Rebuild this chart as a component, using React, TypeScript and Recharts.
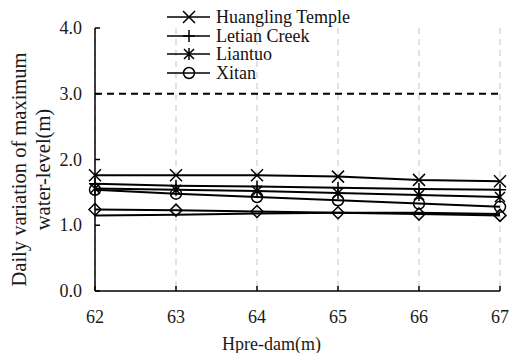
import { CartesianGrid, Legend, Line, LineChart, ReferenceLine, XAxis, YAxis } from "recharts";

const HPRE = [62, 63, 64, 65, 66, 67];
const HUANGLING = [1.76, 1.76, 1.76, 1.74, 1.69, 1.67];
const LETIAN = [1.63, 1.6, 1.59, 1.57, 1.55, 1.54];
const LIANTUO = [1.56, 1.54, 1.52, 1.49, 1.46, 1.43];
const XITAN = [1.54, 1.48, 1.43, 1.38, 1.33, 1.28];
const DIAMOND_RUN = [1.24, 1.23, 1.21, 1.19, 1.17, 1.15];
const PLAIN_RUN = [1.15, 1.16, 1.18, 1.19, 1.19, 1.17];
const LIMIT = 3.0;
const X_TICKS = [62, 63, 64, 65, 66, 67];
const Y_TICKS = [0, 1, 2, 3, 4];

const data = HPRE.map((h, i) => ({
  h,
  huangling: HUANGLING[i],
  letian: LETIAN[i],
  liantuo: LIANTUO[i],
  xitan: XITAN[i],
  diamond: DIAMOND_RUN[i],
  plain: PLAIN_RUN[i],
}));

const FONT = '"Liberation Serif", "Times New Roman", serif';
const INK = "#000";
const TXT = { fontFamily: FONT, fontSize: 18, fill: "#1a1a1a" };

type Kind = "cross" | "plus" | "star" | "circle" | "diamond";

const SHAPES: Record<string, Kind> = {
  huangling: "cross",
  letian: "plus",
  liantuo: "star",
  xitan: "circle",
  diamond: "diamond",
};

function Marker({ kind, cx, cy }: { kind: Kind; cx: number; cy: number }) {
  const s = 6;
  const st = { stroke: INK, strokeWidth: 1.5, fill: "none" };
  if (kind === "cross")
    return <path d={`M${cx - s},${cy - s}L${cx + s},${cy + s}M${cx - s},${cy + s}L${cx + s},${cy - s}`} {...st} />;
  if (kind === "plus")
    return <path d={`M${cx},${cy - s}L${cx},${cy + s}M${cx - s},${cy}L${cx + s},${cy}`} {...st} />;
  if (kind === "star")
    return (
      <path
        d={`M${cx - 5},${cy - 5}L${cx + 5},${cy + 5}M${cx - 5},${cy + 5}L${cx + 5},${cy - 5}M${cx},${cy - s}L${cx},${cy + s}`}
        {...st}
      />
    );
  if (kind === "circle") return <circle cx={cx} cy={cy} r={5.5} {...st} />;
  return <path d={`M${cx},${cy - s}L${cx + s},${cy}L${cx},${cy + s}L${cx - s},${cy}Z`} {...st} />;
}

const dotFor = (key: string) => (p: any) =>
  <Marker key={`${key}-${p.index}`} kind={SHAPES[key]} cx={p.cx} cy={p.cy} />;

// inward tick marks, labels outside
const renderXTick = ({ x, y, payload }: any) => (
  <g key={`xt-${payload.value}`}>
    <line x1={x} x2={x} y1={y} y2={y - 5} stroke={INK} strokeWidth={1.5} />
    <text x={x} y={y + 32} textAnchor="middle" fontFamily={FONT} style={TXT}>
      {String(payload.value)}
    </text>
  </g>
);

const renderYTick = ({ x, y, payload }: any) => (
  <g key={`yt-${payload.value}`}>
    <line x1={x} x2={x + 5} y1={y} y2={y} stroke={INK} strokeWidth={1.5} />
    <text x={x - 13} y={y + 6} textAnchor="end" fontFamily={FONT} style={TXT}>
      {Number(payload.value).toFixed(1)}
    </text>
  </g>
);

function LegendBox({ payload }: any) {
  const items = (payload || []).filter((it: any) => it.type !== "none");
  return (
    <div style={{ fontFamily: FONT, fontSize: 18, color: "#111" }}>
      {items.map((it: any) => (
        <div key={it.dataKey} style={{ display: "flex", alignItems: "center", height: 18.5, lineHeight: "18px" }}>
          <svg width={49} height={16} style={{ overflow: "visible" }}>
            <line x1={0} x2={43} y1={8} y2={8} stroke={INK} strokeWidth={1.5} />
            <Marker kind={SHAPES[it.dataKey]} cx={22} cy={8} />
          </svg>
          <span>{it.value}</span>
        </div>
      ))}
    </div>
  );
}

// two-line rotated title for the value axis
function YTitle(props: any) {
  const cy = props.viewBox.y + props.viewBox.height / 2 + 10;
  const st = { ...TXT, fontSize: 20.5 };
  return (
    <g>
      <text x={26} y={cy} transform={`rotate(-90 26 ${cy})`} textAnchor="middle" style={st}>
        Daily variation of maximum
      </text>
      <text x={50} y={cy} transform={`rotate(-90 50 ${cy})`} textAnchor="middle" style={st}>
        water-level(m)
      </text>
    </g>
  );
}

export default function App() {
  return (
    <div style={{ position: "fixed", left: 0, top: 0, width: 510, height: 353, background: "#fff" }}>
      <LineChart
        width={510}
        height={353}
        data={data}
        margin={{ top: 28, right: 10, bottom: 0, left: 0 }}
        style={{ fontFamily: FONT }}
      >
        <CartesianGrid horizontal={false} stroke="#cfcfcf" strokeDasharray="6 5" strokeWidth={1.2} />
        <XAxis
          dataKey="h"
          type="number"
          domain={[62, 67]}
          ticks={X_TICKS}
          height={62}
          axisLine={{ stroke: INK, strokeWidth: 1.5 }}
          tickLine={false}
          tickSize={0}
          tickMargin={0}
          tick={renderXTick}
          label={{
            value: "Hpre-dam(m)",
            position: "insideBottom",
            offset: 3,
            dx: -26,
            style: TXT,
          }}
        />
        <YAxis
          type="number"
          domain={[0, 4]}
          ticks={Y_TICKS}
          width={95}
          axisLine={{ stroke: INK, strokeWidth: 1.5 }}
          tickLine={false}
          tickSize={0}
          tickMargin={0}
          tick={renderYTick}
          label={<YTitle />}
        />
        <ReferenceLine y={LIMIT} stroke={INK} strokeWidth={2} strokeDasharray="7 5" />
        <Legend
          layout="vertical"
          align="center"
          verticalAlign="middle"
          wrapperStyle={{ left: 167, top: 8, width: 220 }}
          content={<LegendBox />}
        />
        <Line dataKey="plain" legendType="none" stroke={INK} strokeWidth={2} dot={false} isAnimationActive={false} />
        <Line dataKey="diamond" legendType="none" stroke={INK} strokeWidth={2} dot={dotFor("diamond")} isAnimationActive={false} />
        <Line dataKey="xitan" name="Xitan" stroke={INK} strokeWidth={2} dot={dotFor("xitan")} isAnimationActive={false} />
        <Line dataKey="liantuo" name="Liantuo" stroke={INK} strokeWidth={2} dot={dotFor("liantuo")} isAnimationActive={false} />
        <Line dataKey="letian" name="Letian Creek" stroke={INK} strokeWidth={2} dot={dotFor("letian")} isAnimationActive={false} />
        <Line dataKey="huangling" name="Huangling Temple" stroke={INK} strokeWidth={2} dot={dotFor("huangling")} isAnimationActive={false} />
      </LineChart>
    </div>
  );
}
